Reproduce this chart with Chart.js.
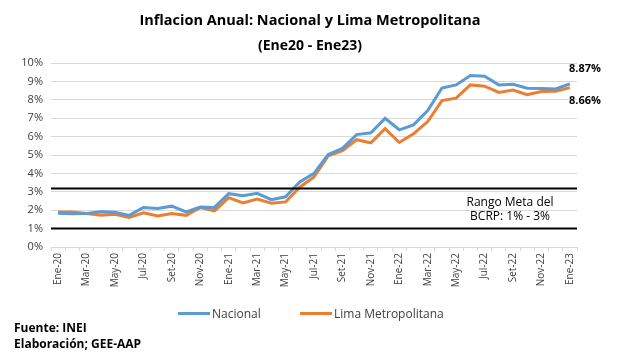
<!DOCTYPE html>
<html>
<head>
<meta charset="utf-8">
<script src="https://cdn.jsdelivr.net/npm/chart.js@4"></script>
<style>
  html, body { margin: 0; padding: 0; background: #fff; }
  #wrap { position: relative; width: 620px; height: 363px; font-family: "Open Sans", sans-serif; }
  #chart { position: absolute; left: 0; top: 0; }
  .title { position: absolute; left: 0; width: 620px; text-align: center; font-weight: bold; color: #000; }
  #t1 { top: 10px; font-size: 14.5px; }
  #t2 { top: 35px; font-size: 14px; }
  .foot { position: absolute; left: 14px; font-size: 12px; font-weight: bold; color: #000; }
  #f1 { top: 319px; }
  #f2 { top: 335px; }
  .leg { position: absolute; top: 305px; font-size: 12px; color: #404040; display: flex; align-items: center; }
  .leg span.sw { display: inline-block; width: 32px; height: 3px; margin-right: 2px; }
</style>
</head>
<body>
<div id="wrap">
  <canvas id="chart" width="620" height="363"></canvas>
  <div class="title" id="t1">Inflacion Anual: Nacional y Lima Metropolitana</div>
  <div class="title" id="t2">(Ene20 - Ene23)</div>
  <div class="leg" style="left:178px"><span class="sw" style="background:#5B9BD5"></span>Nacional</div>
  <div class="leg" style="left:300px"><span class="sw" style="background:#ED7D31"></span>Lima Metropolitana</div>
  <div class="foot" id="f1">Fuente: INEI</div>
  <div class="foot" id="f2">Elaboración; GEE-AAP</div>
</div>
<script>
// ── Datos ──────────────────────────────────────────────────────────────────
const meses = [
  'Ene-20','Feb-20','Mar-20','Abr-20','May-20','Jun-20','Jul-20','Ago-20','Set-20','Oct-20','Nov-20','Dic-20',
  'Ene-21','Feb-21','Mar-21','Abr-21','May-21','Jun-21','Jul-21','Ago-21','Set-21','Oct-21','Nov-21','Dic-21',
  'Ene-22','Feb-22','Mar-22','Abr-22','May-22','Jun-22','Jul-22','Ago-22','Set-22','Oct-22','Nov-22','Dic-22',
  'Ene-23'
];

const nacional = [
  1.83, 1.81, 1.82, 1.91, 1.89, 1.72, 2.15, 2.09, 2.22, 1.91, 2.17, 2.15,
  2.90, 2.79, 2.92, 2.57, 2.73, 3.54, 4.00, 5.03, 5.36, 6.11, 6.21, 6.99,
  6.37, 6.64, 7.41, 8.64, 8.81, 9.32, 9.28, 8.81, 8.84, 8.63, 8.62, 8.59,
  8.87
];

const lima = [
  1.90, 1.90, 1.82, 1.72, 1.78, 1.60, 1.86, 1.69, 1.82, 1.72, 2.14, 1.97,
  2.68, 2.40, 2.60, 2.38, 2.45, 3.25, 3.81, 4.95, 5.23, 5.83, 5.66, 6.43,
  5.68, 6.15, 6.82, 7.96, 8.09, 8.81, 8.74, 8.40, 8.53, 8.28, 8.45, 8.46,
  8.66
];

const rangoMeta = [3.2, 1.05];   // líneas negras del rango meta BCRP
const yTicks    = [0, 10];       // min / max del eje

// ── Plugin: líneas del rango y etiquetas ───────────────────────────────────
const rangoPlugin = {
  id: 'rango',
  afterDatasetsDraw(chart) {
    const { ctx, chartArea: a, scales: { y } } = chart;
    ctx.save();
    ctx.strokeStyle = '#000';
    ctx.lineWidth = 2;
    rangoMeta.forEach(v => {
      const py = Math.round(y.getPixelForValue(v)) + 0.5;
      ctx.beginPath();
      ctx.moveTo(a.left, py);
      ctx.lineTo(a.right, py);
      ctx.stroke();
    });

    ctx.fillStyle = '#000';
    ctx.textAlign = 'center';
    ctx.textBaseline = 'middle';
    ctx.font = '12px "Open Sans", sans-serif';
    ctx.fillText('Rango Meta del', 510, 203);
    ctx.fillText('BCRP: 1% - 3%', 510, 217);

    const last = meses.length - 1;
    ctx.font = 'bold 11px "Open Sans", sans-serif';
    ctx.textAlign = 'left';
    ctx.fillText(nacional[last].toFixed(2) + '%', 569, 69);
    ctx.fillText(lima[last].toFixed(2) + '%', 569, 101);
    ctx.restore();
  }
};

// ── Gráfico ────────────────────────────────────────────────────────────────
const tickFont = { family: '"Open Sans", sans-serif', size: 11 };

new Chart(document.getElementById('chart'), {
  type: 'line',
  data: {
    labels: meses,
    datasets: [
      { label: 'Nacional',           data: nacional, borderColor: '#5B9BD5', borderWidth: 3, pointRadius: 0, tension: 0 },
      { label: 'Lima Metropolitana', data: lima,     borderColor: '#ED7D31', borderWidth: 3, pointRadius: 0, tension: 0 },
    ]
  },
  options: {
    responsive: false,
    animation: false,
    events: [],
    layout: { padding: { top: 63, right: 43, bottom: 71, left: 0 } },
    plugins: { legend: { display: false }, title: { display: false }, tooltip: { enabled: false } },
    scales: {
      x: {
        offset: true,
        grid: { display: true, drawOnChartArea: false, color: '#d9d9d9', tickLength: 4, offset: true },
        border: { color: '#d9d9d9' },
        ticks: {
          autoSkip: false, maxRotation: 90, minRotation: 90, color: '#404040', font: { ...tickFont, size: 10 }, padding: 2,
          callback: (v, i) => i % 2 === 0 ? meses[i] : ''
        },
        afterFit: s => { s.height = 45; }
      },
      y: {
        min: yTicks[0], max: yTicks[1],
        grid: { color: '#d9d9d9', drawTicks: false },
        border: { display: false },
        ticks: { stepSize: 1, color: '#404040', font: tickFont, padding: 8, callback: v => v + '%' },
        afterFit: s => { s.width = 51; }
      }
    }
  },
  plugins: [rangoPlugin]
});
</script>
</body>
</html>
